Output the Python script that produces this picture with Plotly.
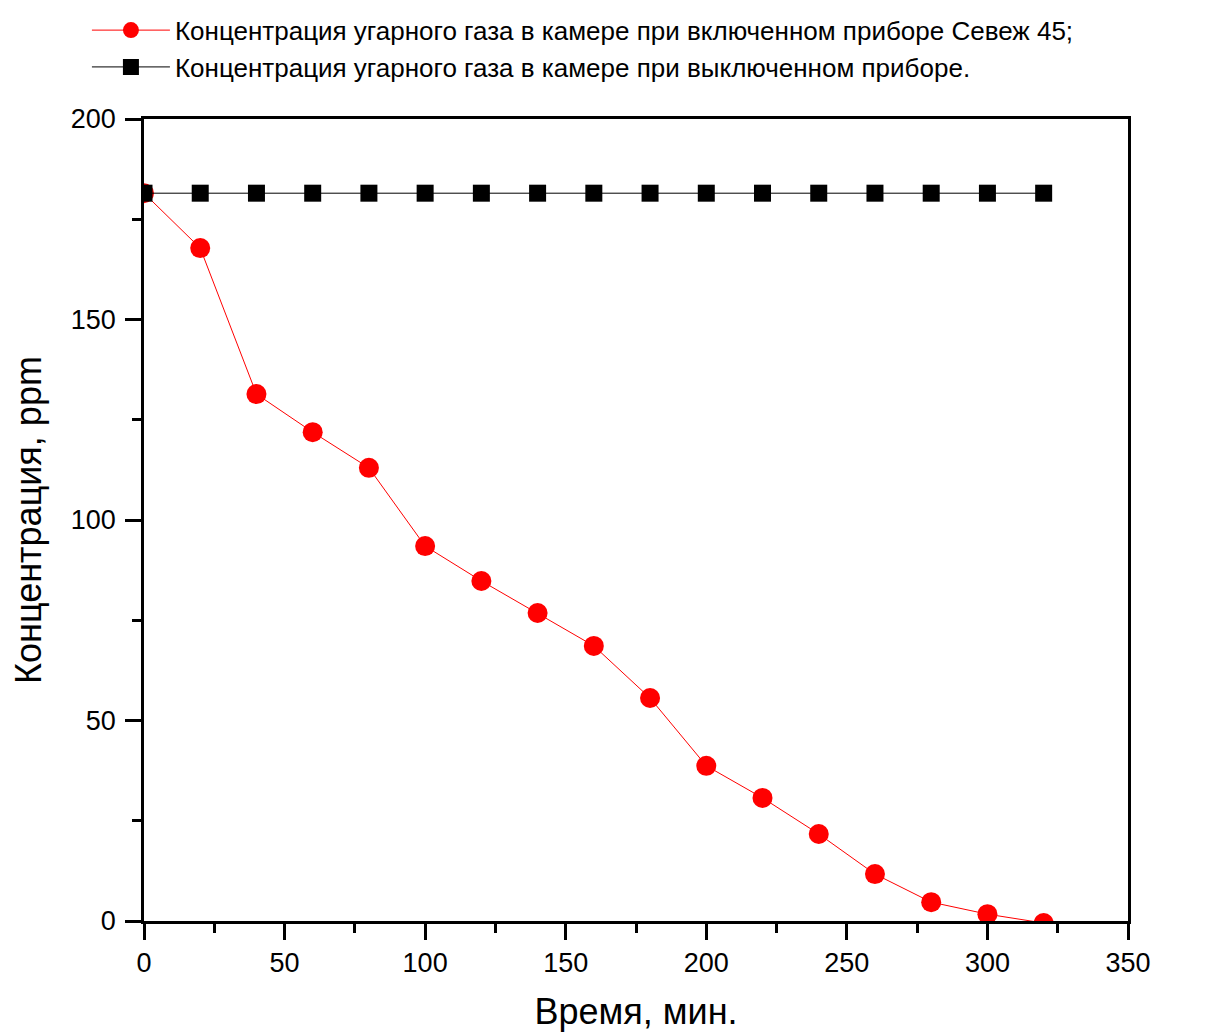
import plotly.graph_objects as go

time_min = [0, 20, 40, 60, 80, 100, 120, 140, 160, 180, 200, 220, 240, 260, 280, 300, 320]
co_on = [181.5, 167.8, 131.4, 121.9, 113.0, 93.5, 84.8, 76.8, 68.6, 55.6, 38.7, 30.7, 21.7, 11.7, 4.7, 1.7, -0.5]
co_off = [181.5] * 17

name_on = "Концентрация угарного газа в камере при включенном приборе Севеж 45;"
name_off = "Концентрация угарного газа в камере при выключенном приборе."

FONT = "Liberation Sans, Arial, sans-serif"

fig = go.Figure()
fig.add_trace(go.Scatter(
    x=time_min, y=co_on, name=name_on, mode="lines+markers",
    line=dict(color="#ff0000", width=1),
    marker=dict(symbol="circle", size=20, color="#ff0000"),
))
fig.add_trace(go.Scatter(
    x=time_min, y=co_off, name=name_off, mode="lines+markers",
    line=dict(color="#000000", width=1),
    marker=dict(symbol="square", size=17, color="#000000"),
))

axis_common = dict(
    showline=True, linecolor="black", linewidth=2.5, mirror=True,
    ticks="outside", ticklen=16, tickwidth=2.5, tickcolor="black",
    showgrid=False, zeroline=False, automargin=False,
    tickfont=dict(family=FONT, size=27, color="black"),
)

fig.update_xaxes(
    range=[0, 350], tickmode="array", tickvals=[0, 50, 100, 150, 200, 250, 300, 350],
    minor=dict(ticks="outside", ticklen=9, tickwidth=2.5, tickcolor="black", dtick=25, tick0=0),
    title=dict(text="Время, мин.", font=dict(family=FONT, size=36, color="black"), standoff=53),
    **axis_common,
)
fig.update_yaxes(
    range=[0, 200], tickmode="array", tickvals=[0, 50, 100, 150, 200],
    minor=dict(ticks="outside", ticklen=9, tickwidth=2.5, tickcolor="black", dtick=25, tick0=0),
    title=dict(text="Концентрация, ppm", font=dict(family=FONT, size=36, color="black"), standoff=51),
    ticklabelstandoff=4,
    **axis_common,
)

fig.update_layout(
    width=1215, height=1024,
    margin=dict(l=136, r=95, t=111, b=111, autoexpand=False),
    plot_bgcolor="white", paper_bgcolor="white",
    font=dict(family=FONT, color="black"),
    legend=dict(
        x=-0.058, y=1.140, xanchor="left", yanchor="top",
        font=dict(family=FONT, size=26, color="black"),
        bgcolor="rgba(0,0,0,0)", tracegroupgap=0, itemwidth=78,
    ),
)

fig.write_html("out.html")
